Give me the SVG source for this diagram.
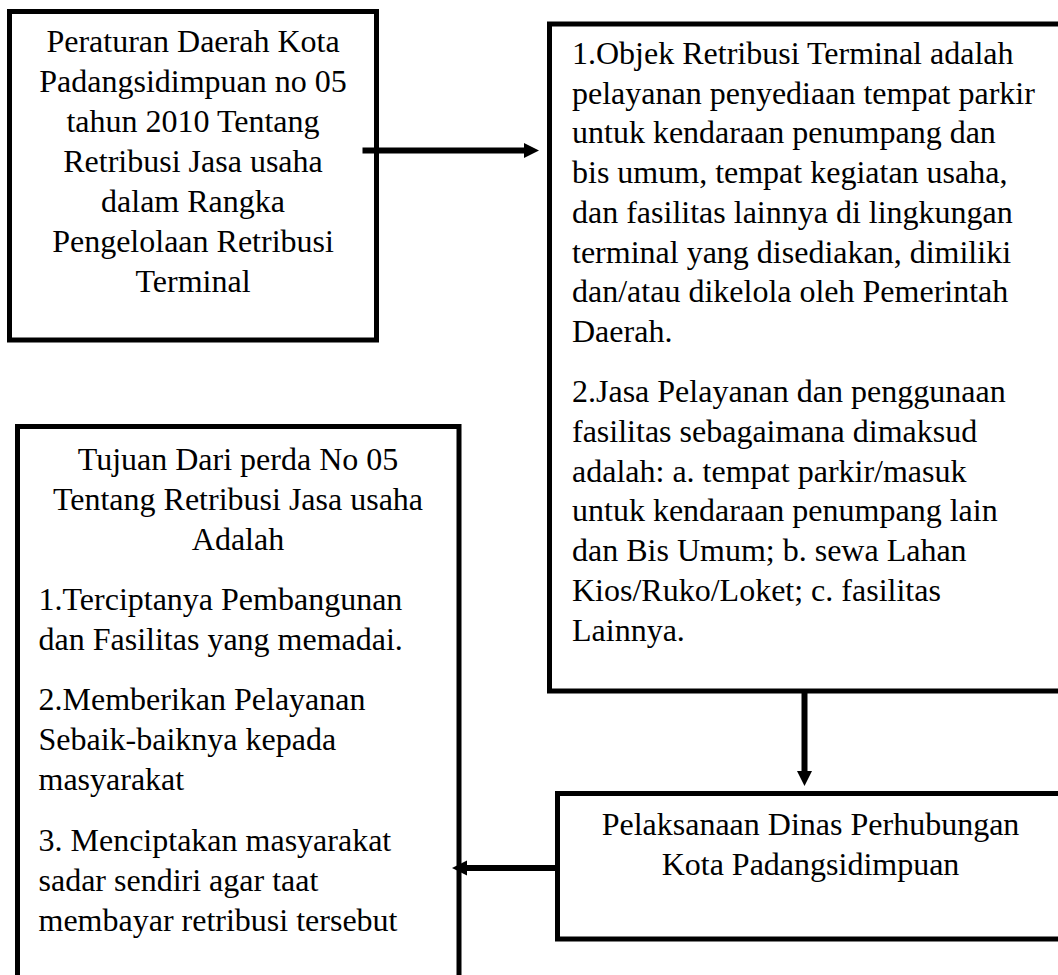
<svg xmlns="http://www.w3.org/2000/svg" width="1058" height="975" viewBox="0 0 1058 975">
<style>
.box{fill:#fff;stroke:#000;stroke-width:5}
.t{font-family:"Liberation Serif","Times New Roman",serif;font-size:32px;fill:#000}
.c{text-anchor:middle}
.conn{stroke:#000;stroke-width:6;fill:none}
</style>
<defs>
<marker id="ah" markerUnits="userSpaceOnUse" markerWidth="16" markerHeight="16" viewBox="0 0 16 16" refX="1" refY="8" orient="auto">
<path d="M0,0.5 L15,8 L0,15.5 Z" fill="#000"/>
</marker>
</defs>
<rect width="1058" height="975" fill="#fff"/>
<g id="node-perda">
<rect class="box" x="9.5" y="11.5" width="367" height="328.5"/>
<text class="t c" x="193" y="52">Peraturan Daerah Kota</text>
<text class="t c" x="193" y="92">Padangsidimpuan no 05</text>
<text class="t c" x="193" y="132">tahun 2010 Tentang</text>
<text class="t c" x="193" y="172">Retribusi Jasa usaha</text>
<text class="t c" x="193" y="212">dalam Rangka</text>
<text class="t c" x="193" y="252">Pengelolaan Retribusi</text>
<text class="t c" x="193" y="292">Terminal</text>
</g>
<g id="node-objek">
<rect class="box" x="549.5" y="24" width="530" height="667"/>
<text class="t" x="572" y="64">1.Objek Retribusi Terminal adalah</text>
<text class="t" x="572" y="103.7">pelayanan penyediaan tempat parkir</text>
<text class="t" x="572" y="143.4">untuk kendaraan penumpang dan</text>
<text class="t" x="572" y="183.1">bis umum, tempat kegiatan usaha,</text>
<text class="t" x="572" y="222.8">dan fasilitas lainnya di lingkungan</text>
<text class="t" x="572" y="262.5">terminal yang disediakan, dimiliki</text>
<text class="t" x="572" y="302.2">dan/atau dikelola oleh Pemerintah</text>
<text class="t" x="572" y="341.9">Daerah.</text>
<text class="t" x="572" y="402">2.Jasa Pelayanan dan penggunaan</text>
<text class="t" x="572" y="441.8">fasilitas sebagaimana dimaksud</text>
<text class="t" x="572" y="481.6">adalah: a. tempat parkir/masuk</text>
<text class="t" x="572" y="521.4">untuk kendaraan penumpang lain</text>
<text class="t" x="572" y="561.2">dan Bis Umum; b. sewa Lahan</text>
<text class="t" x="572" y="601">Kios/Ruko/Loket; c. fasilitas</text>
<text class="t" x="572" y="640.8">Lainnya.</text>
</g>
<g id="node-tujuan">
<rect class="box" x="17.5" y="426.5" width="441.5" height="570"/>
<text class="t c" x="238" y="469.5">Tujuan Dari perda No 05</text>
<text class="t c" x="238" y="509.5">Tentang Retribusi Jasa usaha</text>
<text class="t c" x="238" y="549.5">Adalah</text>
<text class="t" x="38.5" y="609.5">1.Terciptanya Pembangunan</text>
<text class="t" x="38.5" y="649.5">dan Fasilitas yang memadai.</text>
<text class="t" x="38.5" y="710">2.Memberikan Pelayanan</text>
<text class="t" x="38.5" y="750">Sebaik-baiknya kepada</text>
<text class="t" x="38.5" y="790">masyarakat</text>
<text class="t" x="38.5" y="851">3. Menciptakan masyarakat</text>
<text class="t" x="38.5" y="891">sadar sendiri agar taat</text>
<text class="t" x="38.5" y="931">membayar retribusi tersebut</text>
</g>
<g id="node-pelaksanaan">
<rect class="box" x="557.5" y="793.5" width="506.5" height="145.5"/>
<text class="t c" x="810.5" y="835">Pelaksanaan Dinas Perhubungan</text>
<text class="t c" x="810.5" y="875">Kota Padangsidimpuan</text>
</g>
<g id="connectors">
<line class="conn" x1="362.5" y1="150.5" x2="525" y2="150.5" marker-end="url(#ah)"/>
<line class="conn" x1="804.5" y1="693" x2="804.5" y2="772" marker-end="url(#ah)"/>
<line class="conn" x1="557.5" y1="868" x2="466" y2="868" marker-end="url(#ah)"/>
</g>
</svg>
